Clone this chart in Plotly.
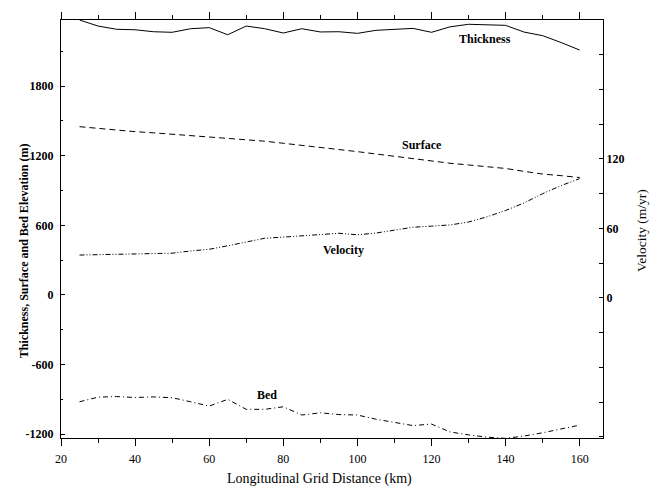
import plotly.graph_objects as go

distance_km = [25, 30, 35, 40, 45, 50, 55, 60, 65, 70, 75, 80, 85, 90, 95, 100,
               105, 110, 115, 120, 125, 130, 135, 140, 145, 150, 155, 160]

thickness_m = [2369, 2317, 2289, 2285, 2268, 2263, 2294, 2303, 2242, 2317, 2294, 2257,
               2294, 2266, 2268, 2254, 2280, 2290, 2297, 2263, 2310, 2332, 2330, 2323,
               2265, 2234, 2175, 2110]

surface_m = [1450, 1435, 1420, 1407, 1397, 1385, 1373, 1363, 1350, 1340, 1325, 1307,
             1290, 1270, 1252, 1235, 1215, 1195, 1170, 1150, 1135, 1120, 1105, 1090,
             1065, 1042, 1028, 1012]

bed_m = [-920, -880, -875, -883, -878, -885, -920, -957, -899, -985, -985, -963,
         -1034, -1015, -1030, -1034, -1070, -1100, -1125, -1112, -1180, -1205, -1225, -1235,
         -1215, -1187, -1155, -1121]

velocity_myr = [37.0, 37.2, 37.5, 37.8, 38.2, 38.6, 40.5, 42.0, 45.0, 48.5, 51.5, 52.5,
                53.5, 54.8, 55.8, 54.5, 56.0, 58.5, 61.0, 62.0, 63.0, 65.5, 70.0, 75.5,
                82.0, 90.0, 97.0, 103.0]

x_ticks = [20, 40, 60, 80, 100, 120, 140, 160]
y_ticks = [-1200, -600, 0, 600, 1200, 1800]
y_labels = ["-1200", "-600", "0", "600", "1200", "1800"]
v_ticks = [-120, -90, -60, -30, 0, 30, 60, 90, 120, 150, 180, 210]
v_labels = ["", "", "", "", "0", "", "60", "", "120", "", "", ""]

SERIF = "Liberation Serif, Times New Roman, serif"

fig = go.Figure()
fig.add_trace(go.Scatter(x=distance_km, y=thickness_m, mode="lines",
                         line=dict(color="black", width=1), name="Thickness"))
fig.add_trace(go.Scatter(x=distance_km, y=surface_m, mode="lines",
                         line=dict(color="black", width=1, dash="6px,4px"), name="Surface"))
fig.add_trace(go.Scatter(x=distance_km, y=bed_m, mode="lines",
                         line=dict(color="black", width=1, dash="5px,3px,1px,3px"), name="Bed"))
fig.add_trace(go.Scatter(x=distance_km, y=velocity_myr, mode="lines", yaxis="y2",
                         line=dict(color="black", width=1, dash="5px,2px,1px,2px,1px,2px"),
                         name="Velocity"))

labels = [("Thickness", 134.4, 2205), ("Surface", 117.5, 1292),
          ("Velocity", 96.3, 388), ("Bed", 75.5, -861)]
for txt, lx, ly in labels:
    fig.add_annotation(x=lx, y=ly, text=txt, showarrow=False,
                       font=dict(family=SERIF, size=12, color="black", weight="bold"))

# axis titles
fig.add_annotation(xref="paper", yref="paper", x=1.0, y=0.495, xshift=38,
                   text="Velocity (m/yr)", textangle=-90, showarrow=False,
                   xanchor="center", yanchor="middle",
                   font=dict(family=SERIF, size=13.5, color="black"))
fig.add_annotation(xref="paper", yref="paper", x=0.0, y=0.447, xshift=-37,
                   text="Thickness, Surface and Bed Elevation (m)", textangle=-90,
                   showarrow=False, xanchor="center", yanchor="middle",
                   font=dict(family=SERIF, size=12, color="black", weight="bold"))
fig.add_annotation(xref="paper", yref="paper", x=0.0, y=0.0, xshift=258, yshift=-41,
                   text="Longitudinal Grid Distance (km)", showarrow=False,
                   xanchor="center", yanchor="middle",
                   font=dict(family=SERIF, size=14, color="black"))

fig.update_layout(
    width=657, height=486,
    margin=dict(l=61, r=54, t=20, b=48),
    paper_bgcolor="white", plot_bgcolor="white",
    showlegend=False,
    font=dict(family=SERIF, color="black"),
    xaxis=dict(range=[20, 166.3], tickvals=x_ticks, ticks="outside", ticklen=7,
               tickwidth=1, tickcolor="black",
               minor=dict(dtick=10, tick0=20, ticks="outside", ticklen=4, tickcolor="black"),
               showline=True, linecolor="black", linewidth=1, mirror="ticks",
               showgrid=False, zeroline=False, ticklabelstandoff=3,
               tickfont=dict(family=SERIF, size=12, color="black")),
    yaxis=dict(range=[-1232, 2369], tickvals=y_ticks, ticktext=y_labels,
               ticks="inside", ticklen=4, tickcolor="black",
               minor=dict(dtick=300, tick0=0, ticks="inside", ticklen=2, tickcolor="black"),
               showline=True, linecolor="black", linewidth=1,
               showgrid=False, zeroline=False, ticklabelstandoff=4,
               tickfont=dict(family=SERIF, size=12, color="black", weight="bold")),
    yaxis2=dict(range=[-121, 240], overlaying="y", side="right",
                tickvals=v_ticks, ticktext=v_labels, ticks="inside", ticklen=4,
                tickcolor="black", showline=True, linecolor="black", linewidth=1,
                showgrid=False, zeroline=False, ticklabelstandoff=0,
                tickfont=dict(family=SERIF, size=12, color="black", weight="bold")),
)

fig.write_html("out.html")
